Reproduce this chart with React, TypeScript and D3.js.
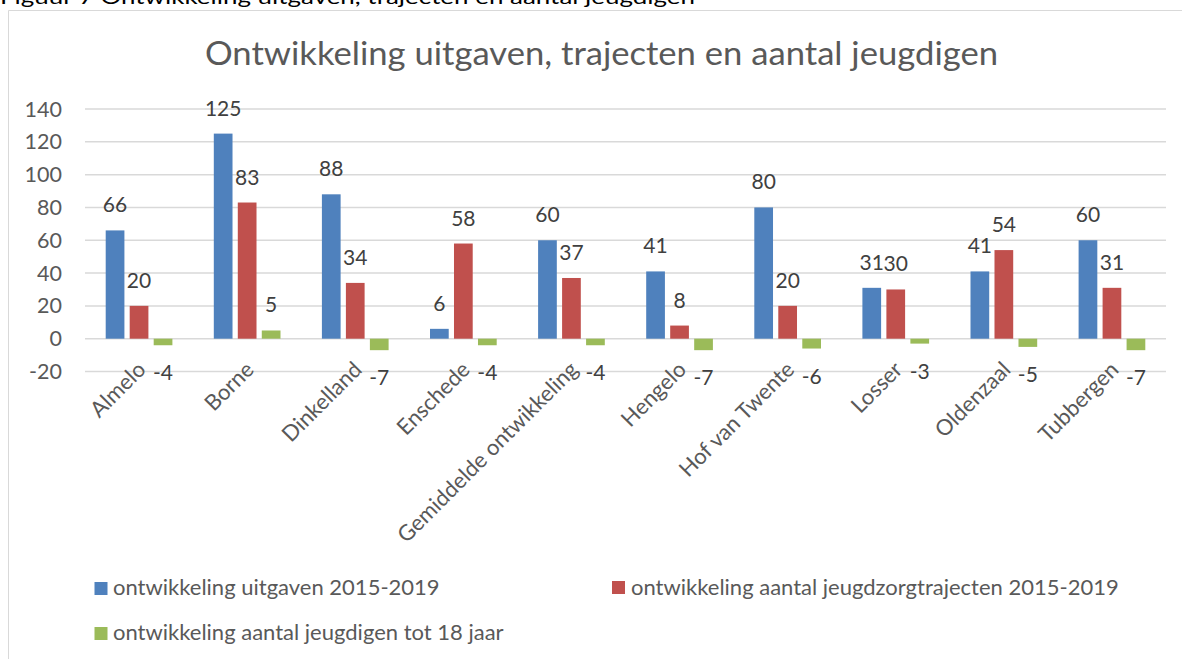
import React from "react";
import * as d3 from "d3";

const categories = [
  "Almelo",
  "Borne",
  "Dinkelland",
  "Enschede",
  "Gemiddelde ontwikkeling",
  "Hengelo",
  "Hof van Twente",
  "Losser",
  "Oldenzaal",
  "Tubbergen",
];
const uitgaven = [66, 125, 88, 6, 60, 41, 80, 31, 41, 60];
const trajecten = [20, 83, 34, 58, 37, 8, 20, 30, 54, 31];
const jeugdigen = [-4, 5, -7, -4, -4, -7, -6, -3, -5, -7];
const seriesNames = [
  "ontwikkeling uitgaven 2015-2019",
  "ontwikkeling aantal jeugdzorgtrajecten 2015-2019",
  "ontwikkeling aantal jeugdigen tot 18 jaar",
];
const yTicks = [-20, 0, 20, 40, 60, 80, 100, 120, 140];
const colors = ["#4F81BD", "#C0504D", "#9BBB59"];

const W = 1182;
const H = 659;
const FONT = "Lato, 'Open Sans', sans-serif";
const TXT = "#595959";

export default function App() {
  const series = [uitgaven, trajecten, jeugdigen];
  const x = d3.scaleBand<string>().domain(categories).range([85, 1166]).paddingInner(0).paddingOuter(0);
  const inner = d3
    .scaleBand<number>()
    .domain([0, 1, 2])
    .range([0, 66.7])
    .paddingInner(0.22)
    .paddingOuter(0);
  const groupOffset = (x.bandwidth() - 66.7) / 2;
  const y = d3.scaleLinear().domain([-20, 140]).range([371.5, 109]);

  return (
    <svg
      width={W}
      height={H}
      style={{ position: "absolute", left: 0, top: 0, background: "#fff" }}
      fontFamily={FONT}
    >
      <rect x={0} y={0} width={W} height={H} fill="#fff" />
      {/* cut-off caption above chart */}
      <text x={0} y={4} fontSize={20} fill="#000" textLength={695} lengthAdjust="spacingAndGlyphs">
        Figuur 7 Ontwikkeling uitgaven, trajecten en aantal jeugdigen
      </text>
      {/* chart border */}
      <path d={`M8.5,${H} V10.5 H${W}`} fill="none" stroke="#d9d9d9" strokeWidth={1} />
      {/* title */}
      <text
        x={601.5}
        y={65}
        fontSize={32}
        fill={TXT}
        textAnchor="middle"
        textLength={793}
        lengthAdjust="spacingAndGlyphs"
      >
        Ontwikkeling uitgaven, trajecten en aantal jeugdigen
      </text>
      {/* gridlines and y ticks */}
      {yTicks.map((t) => (
        <g key={t}>
          <line x1={85} x2={1166} y1={y(t)} y2={y(t)} stroke="#d9d9d9" strokeWidth={1.5} />
          <text x={62} y={y(t) + 7.5} fontSize={21.5} fill={TXT} textAnchor="end">
            {t}
          </text>
        </g>
      ))}
      {/* bars */}
      {series.map((vals, si) =>
        vals.map((v, ci) => {
          const bx = (x(categories[ci]) as number) + groupOffset + (inner(si) as number);
          const bw = inner.bandwidth();
          const top = y(Math.max(v, 0));
          const bottom = y(Math.min(v, 0));
          return (
            <g key={`${si}-${ci}`}>
              <rect x={bx} y={top} width={bw} height={bottom - top} fill={colors[si]} />
              <text
                x={bx + bw / 2}
                y={v >= 0 ? top - 18 : bottom + 35}
                fontSize={21}
                fill="#404040"
                textAnchor="middle"
              >
                {v}
              </text>
            </g>
          );
        })
      )}
      {/* category labels */}
      {categories.map((c) => {
        const cx = (x(c) as number) + x.bandwidth() / 2 + 8;
        const cy = 371;
        return (
          <text
            key={c}
            x={cx}
            y={cy}
            fontSize={22}
            fill={TXT}
            textAnchor="end"
            transform={`rotate(-45 ${cx} ${cy})`}
          >
            {c}
          </text>
        );
      })}
      {/* legend */}
      {[
        { sx: 94.5, sy: 582, tx: 113, ty: 595 },
        { sx: 612, sy: 581, tx: 631, ty: 595 },
        { sx: 94.5, sy: 627, tx: 113, ty: 640 },
      ].map((p, i) => (
        <g key={i}>
          <rect x={p.sx} y={p.sy} width={13} height={13} fill={colors[i]} />
          <text x={p.tx} y={p.ty} fontSize={22} fill={TXT}>
            {seriesNames[i]}
          </text>
        </g>
      ))}
    </svg>
  );
}
